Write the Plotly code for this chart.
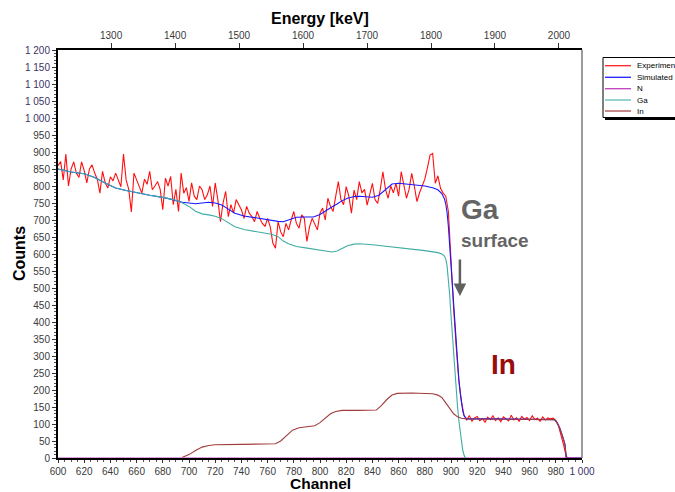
import plotly.graph_objects as go

# ---------------- data ----------------
# Measured RBS spectrum, counts in every second channel from 600 to 1000
exp_ch = list(range(600, 1001, 2))
exp_counts = [
    860, 872, 818, 894, 800, 850, 871, 838, 825, 871,   # 600
    845, 809, 850, 862, 838, 820, 779, 843, 810, 794,   # 620
    827, 815, 838, 820, 798, 894, 818, 790, 724, 838,   # 640
    818, 800, 779, 820, 805, 843, 789, 800, 813, 790,   # 660
    730, 823, 800, 828, 745, 790, 725, 838, 779, 795,   # 680
    755, 809, 770, 760, 800, 789, 760, 774, 800, 740,   # 700
    809, 760, 695, 750, 784, 710, 745, 720, 760, 745,   # 720
    730, 705, 740, 720, 710, 695, 725, 705, 690, 681,   # 740
    705, 680, 632, 617, 695, 665, 651, 690, 671, 700,   # 760
    725, 690, 676, 715, 705, 637, 680, 705, 690, 671,   # 780
    720, 735, 700, 764, 740, 725, 770, 813, 760, 745,   # 800
    798, 770, 720, 788, 760, 813, 780, 790, 744, 775,   # 820
    808, 760, 749, 790, 842, 790, 764, 800, 780, 808,   # 840
    770, 842, 800, 764, 790, 837, 800, 754, 780, 803,   # 860
    820, 853, 891, 896, 808, 830, 793, 779, 770, 725,   # 880
    575, 440, 325, 228, 165, 125, 112, 125, 108, 118,   # 900
    122, 110, 116, 105, 120, 113, 124, 110, 118, 107,   # 920
    121, 115, 109, 126, 112, 118, 108, 122, 114, 119,   # 940
    110, 124, 113, 117, 108, 121, 112, 118, 115, 117,   # 960
    110, 95, 68, 38, 4, 0, 0, 0, 0, 0,                  # 980
    0,                                                  # 1000
]

# Simulated total spectrum
sim_ch = [600, 610, 620, 628, 636, 644, 652, 661, 670, 682, 690, 695, 700, 705,
          710, 715, 720, 725, 730, 735, 742, 750, 757, 763, 768, 772, 776, 782,
          789, 795, 800, 805, 809, 813, 817, 821, 826, 830, 840, 845, 850, 855,
          860, 870, 880, 886, 890, 893, 895, 896, 897, 898, 899, 900, 901, 902,
          903, 904, 905, 906, 907, 908, 909, 910, 912, 930, 950, 970, 979, 981,
          983, 985, 987, 988, 1000]
sim_counts = [850, 841, 836, 825, 809, 794, 787, 779, 773, 765, 758, 752, 750, 748,
              750, 752, 750, 744, 732, 720, 712, 707, 702, 698, 696, 695, 701, 708,
              709, 709, 716, 729, 738, 747, 757, 764, 769, 770, 767, 773, 791, 806,
              808, 805, 800, 795, 789, 778, 762, 747, 722, 681, 625, 560, 495, 430,
              372, 319, 271, 230, 193, 162, 138, 124, 115, 115, 115, 114, 113, 104,
              88, 66, 40, 0, 0]

# Nitrogen contribution (no signal in this channel window)
n_ch = [600, 1000]
n_counts = [0, 0]

# Gallium contribution
ga_ch = [600, 610, 620, 628, 636, 644, 652, 661, 670, 682, 690, 695, 700, 705,
         710, 715, 720, 725, 730, 735, 742, 750, 757, 763, 768, 772, 776, 782,
         789, 795, 800, 805, 809, 813, 817, 821, 826, 830, 840, 850, 860, 870,
         880, 890, 893, 895, 896, 897, 898, 899, 900, 901, 902, 903, 904, 905,
         906, 907, 908, 909, 910, 911]
ga_counts = [850, 841, 836, 825, 809, 794, 787, 779, 773, 765, 758, 750, 740, 726,
             718, 715, 711, 704, 692, 680, 672, 667, 662, 658, 651, 638, 630, 622,
             618, 615, 612, 608, 606, 609, 617, 624, 629, 630, 627, 623, 618, 614,
             610, 604, 600, 594, 585, 565, 530, 480, 420, 360, 300, 245, 195, 150,
             110, 75, 45, 22, 8, 0]

# Indium contribution
in_ch = [695, 700, 705, 710, 715, 720, 740, 762, 766, 770, 775, 779, 784, 790,
         796, 800, 804, 808, 812, 817, 830, 843, 847, 851, 855, 859, 870, 879,
         886, 890, 893, 896, 899, 902, 905, 908, 912, 930, 950, 970, 979, 981,
         983, 985, 987, 988]
in_counts = [2, 10, 22, 32, 37, 39, 40, 40, 42, 50, 68, 82, 89, 92,
             95, 104, 118, 130, 137, 140, 140, 141, 155, 172, 185, 190, 191, 190,
             189, 185, 178, 162, 145, 130, 121, 117, 115, 115, 115, 114, 113, 104,
             88, 66, 40, 0]

series_names = ["Experiment", "Simulated", "N", "Ga", "In"]
series_colors = ["#ff1010", "#1818ff", "#c040c0", "#3fada5", "#a23c3c"]

assert len(exp_ch) == len(exp_counts)
assert len(sim_ch) == len(sim_counts)
assert len(ga_ch) == len(ga_counts)
assert len(in_ch) == len(in_counts)

# channel -> energy calibration of the top axis
E0, DE = 1217.0, 2.0475          # keV at channel 600, keV per channel
CH_MIN, CH_MAX = 600, 1000
energy_ticks = [1300, 1400, 1500, 1600, 1700, 1800, 1900, 2000]

y_ticks = list(range(0, 1201, 50))
x_ticks = list(range(600, 1001, 20))

FONT = "Liberation Sans, Arial, sans-serif"
LABEL = "#3a3a3a"
THOUSANDS = "#3b3266"


def spaced(v, big_color):
    s = f"{v:,}".replace(",", " ")
    if v >= 1000:
        return f"<span style='color:{big_color}'>{s}</span>"
    return s


fig = go.Figure()
xs = [exp_ch, sim_ch, n_ch, ga_ch, in_ch]
ys = [exp_counts, sim_counts, n_counts, ga_counts, in_counts]
for name, color, x, y in zip(series_names, series_colors, xs, ys):
    fig.add_trace(go.Scatter(x=x, y=y, mode="lines", name=name,
                             line=dict(color=color, width=1.1),
                             showlegend=False, cliponaxis=True))

# invisible trace that carries the energy axis
fig.add_trace(go.Scatter(x=[E0, E0 + DE * (CH_MAX - CH_MIN)], y=[None, None],
                         xaxis="x2", mode="lines", showlegend=False,
                         hoverinfo="skip"))

fig.update_layout(
    width=675, height=492,
    margin=dict(l=58, r=93, t=50, b=34),
    paper_bgcolor="white", plot_bgcolor="white",
    font=dict(family=FONT, size=10, color=LABEL),
    xaxis=dict(
        range=[CH_MIN, CH_MAX], showgrid=False, zeroline=False,
        showline=True, linecolor="black", linewidth=2,
        tickvals=x_ticks, ticktext=[spaced(v, THOUSANDS) for v in x_ticks],
        ticks="outside", ticklen=3, tickcolor="#333", tickwidth=1,
        tickfont=dict(size=10, color=LABEL),
        minor=dict(dtick=5, ticks="outside", ticklen=2, tickcolor="#555"),
    ),
    xaxis2=dict(
        overlaying="x", side="top", anchor="y",
        range=[E0, E0 + DE * (CH_MAX - CH_MIN)], showgrid=False, zeroline=False,
        showline=True, linecolor="black", linewidth=1.5,
        tickvals=energy_ticks, ticks="outside", ticklen=5, tickcolor="#333",
        tickfont=dict(size=10, color=LABEL),
    ),
    yaxis=dict(
        range=[0, 1200], showgrid=False, zeroline=False,
        showline=True, linecolor="black", linewidth=2,
        tickvals=y_ticks, ticktext=[spaced(v, THOUSANDS) for v in y_ticks],
        ticks="outside", ticklen=4, tickcolor="#333", tickwidth=1,
        tickfont=dict(size=10, color=LABEL),
        minor=dict(dtick=10, ticks="outside", ticklen=2, tickcolor="#555"),
    ),
)

# right border of the plot frame
fig.add_shape(type="line", xref="paper", yref="paper", x0=1, x1=1, y0=0, y1=1,
              line=dict(color="#7a7a7a", width=1.5))

# axis titles
title_font = dict(family=FONT, size=16, color="black", weight="bold")
fig.add_annotation(text="Energy [keV]", xref="paper", yref="paper", x=0.5, y=1.076,
                   showarrow=False, font=title_font, xanchor="center", yanchor="middle")
fig.add_annotation(text="Channel", xref="paper", yref="paper", x=0.5, y=-0.062,
                   showarrow=False, font=dict(family=FONT, size=15.5, color="black",
                                              weight="bold"),
                   xanchor="center", yanchor="middle")
fig.add_annotation(text="Counts", xref="paper", yref="paper", x=-0.0744, y=0.5,
                   textangle=-90, showarrow=False, font=title_font,
                   xanchor="center", yanchor="middle")

# labels inside the plot
fig.add_annotation(text="Ga", x=0.765, y=0.61, xref="paper", yref="paper",
                   showarrow=False, xanchor="left", yanchor="middle",
                   font=dict(family=FONT, size=28, color="#646464", weight="bold"))
fig.add_annotation(text="surface", x=0.765, y=0.534, xref="paper", yref="paper",
                   showarrow=False, xanchor="left", yanchor="middle",
                   font=dict(family=FONT, size=19, color="#646464", weight="bold"))
fig.add_annotation(text="", x=0.767, y=0.397, xref="paper", yref="paper",
                   ax=0, ay=-38, showarrow=True, arrowhead=2, arrowsize=1,
                   arrowwidth=2.5, arrowcolor="#606060")
fig.add_annotation(text="In", x=0.851, y=0.228, xref="paper", yref="paper",
                   showarrow=False, xanchor="center", yanchor="middle",
                   font=dict(family=FONT, size=28, color="#990c0c", weight="bold"))

# legend box with drop shadow
PW, PH, PL, PB = 524.0, 408.0, 58.0, 458.0


def px(x):
    return (x - PL) / PW


def py(y):
    return (PB - y) / PH


fig.add_shape(type="rect", xref="paper", yref="paper",
              x0=px(605), x1=px(720), y0=py(120), y1=py(60),
              fillcolor="black", line=dict(width=0), layer="above")
fig.add_shape(type="rect", xref="paper", yref="paper",
              x0=px(603), x1=px(718), y0=py(117.5), y1=py(57.5),
              fillcolor="white", line=dict(color="black", width=1), layer="above")
legend_rows = [65.7, 77.3, 88.7, 100.0, 111.0]
legend_colors = ["#ff2020", "#2020ff", "#c040c0", "#5bbdb6", "#a84848"]
for name, color, yy in zip(series_names, legend_colors, legend_rows):
    fig.add_shape(type="line", xref="paper", yref="paper",
                  x0=px(605), x1=px(631), y0=py(yy), y1=py(yy),
                  line=dict(color=color, width=1.3), layer="above")
    fig.add_annotation(text=name, xref="paper", yref="paper", x=px(635), y=py(yy),
                       xanchor="left", yanchor="middle", showarrow=False,
                       font=dict(family=FONT, size=8, color="black"))

fig.write_html("out.html")
